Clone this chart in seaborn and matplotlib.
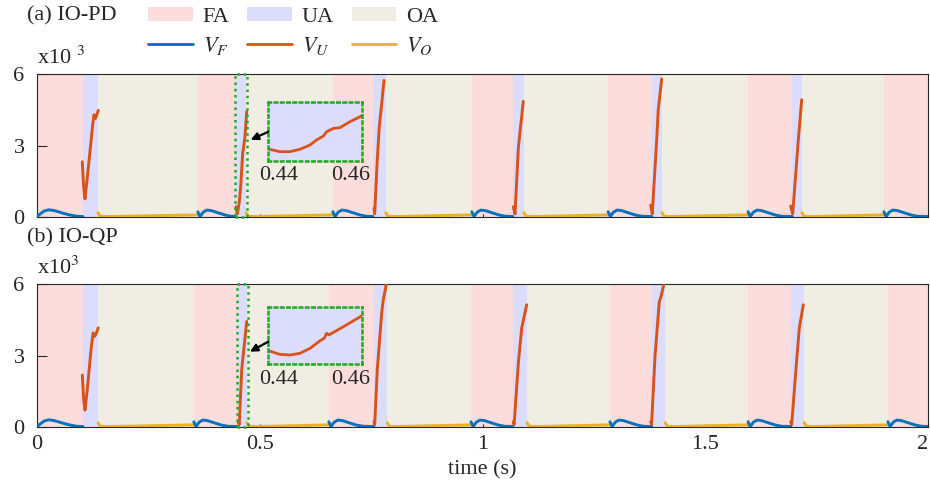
import numpy as np
import pandas as pd
import matplotlib
matplotlib.use("Agg")
import matplotlib.pyplot as plt
from matplotlib.patches import Patch, Rectangle
from matplotlib.lines import Line2D
import seaborn as sns

sns.set_theme(style="white")
plt.rcParams['font.family'] = ['Liberation Serif', 'DejaVu Serif']
plt.rcParams['mathtext.fontset'] = 'stix'

# ---------------- data (values in x10^3) ----------------
# phase intervals (s)
fa_a = [(0.000, 0.103), (0.361, 0.447), (0.664, 0.754), (0.976, 1.068), (1.282, 1.380), (1.596, 1.695), (1.901, 2.000)]
ua_a = [(0.103, 0.137), (0.447, 0.469), (0.754, 0.783), (1.068, 1.093), (1.380, 1.403), (1.695, 1.717)]
oa_a = [(0.137, 0.361), (0.469, 0.664), (0.783, 0.976), (1.093, 1.282), (1.403, 1.596), (1.717, 1.901)]

fa_b = [(0.000, 0.103), (0.352, 0.451), (0.655, 0.756), (0.974, 1.068), (1.286, 1.380), (1.596, 1.692), (1.910, 2.000)]
ua_b = [(0.103, 0.137), (0.451, 0.471), (0.756, 0.786), (1.068, 1.100), (1.380, 1.410), (1.692, 1.722)]
oa_b = [(0.137, 0.352), (0.471, 0.655), (0.786, 0.974), (1.100, 1.286), (1.410, 1.596), (1.722, 1.910)]

# V_F segments (time, value)
vf_a_t = [[0.000, 0.008, 0.016, 0.026, 0.036, 0.048, 0.060, 0.075, 0.090, 0.103],
          [0.361, 0.366, 0.373, 0.381, 0.391, 0.401, 0.411, 0.423, 0.436, 0.447],
          [0.664, 0.669, 0.676, 0.684, 0.694, 0.704, 0.714, 0.726, 0.740, 0.754],
          [0.976, 0.981, 0.988, 0.996, 1.006, 1.016, 1.026, 1.038, 1.052, 1.068],
          [1.282, 1.287, 1.294, 1.302, 1.312, 1.322, 1.332, 1.344, 1.358, 1.380],
          [1.596, 1.601, 1.608, 1.616, 1.626, 1.636, 1.646, 1.658, 1.672, 1.695],
          [1.901, 1.906, 1.913, 1.921, 1.931, 1.941, 1.951, 1.963, 1.977, 2.000]]
vf_a_v = [[0.02, 0.14, 0.25, 0.30, 0.28, 0.22, 0.15, 0.08, 0.03, 0.02],
          [0.22, 0.02, 0.20, 0.29, 0.27, 0.21, 0.15, 0.08, 0.03, 0.02],
          [0.22, 0.02, 0.20, 0.29, 0.27, 0.21, 0.15, 0.08, 0.03, 0.02],
          [0.22, 0.02, 0.20, 0.29, 0.27, 0.21, 0.15, 0.08, 0.03, 0.02],
          [0.22, 0.02, 0.20, 0.29, 0.27, 0.21, 0.15, 0.08, 0.03, 0.02],
          [0.22, 0.02, 0.20, 0.29, 0.27, 0.21, 0.15, 0.08, 0.03, 0.02],
          [0.22, 0.02, 0.20, 0.29, 0.27, 0.21, 0.15, 0.08, 0.03, 0.02]]
vf_b_t = [[0.000, 0.008, 0.016, 0.026, 0.036, 0.048, 0.060, 0.075, 0.090, 0.103],
          [0.352, 0.357, 0.364, 0.372, 0.382, 0.392, 0.402, 0.414, 0.430, 0.451],
          [0.655, 0.660, 0.667, 0.675, 0.685, 0.695, 0.705, 0.717, 0.733, 0.756],
          [0.974, 0.979, 0.986, 0.994, 1.004, 1.014, 1.024, 1.036, 1.050, 1.068],
          [1.286, 1.291, 1.298, 1.306, 1.316, 1.326, 1.336, 1.348, 1.362, 1.380],
          [1.596, 1.601, 1.608, 1.616, 1.626, 1.636, 1.646, 1.658, 1.672, 1.692],
          [1.910, 1.915, 1.922, 1.930, 1.940, 1.950, 1.960, 1.972, 1.986, 2.000]]
vf_b_v = vf_a_v

# V_U segments
vu_a_t = [[0.1017, 0.1045, 0.1077, 0.1120, 0.1170, 0.1205, 0.1250, 0.1280, 0.1300, 0.1318, 0.1345, 0.1376],
          [0.4467, 0.4496, 0.4540, 0.4572, 0.4617, 0.4669, 0.4707],
          [0.7565, 0.7580, 0.7638, 0.7683, 0.7740, 0.7789],
          [1.0691, 1.0730, 1.0804, 1.0860, 1.0916],
          [1.3775, 1.3811, 1.3910, 1.3945, 1.4022],
          [1.6918, 1.6963, 1.7089, 1.7165]]
vu_a_v = [[2.32, 1.30, 0.76, 1.50, 2.40, 3.03, 3.87, 4.29, 4.12, 4.17, 4.30, 4.47],
          [0.43, 0.13, 0.60, 1.27, 2.68, 3.37, 4.43],
          [0.36, 0.13, 2.40, 3.80, 4.80, 5.73],
          [0.43, 0.13, 2.88, 3.90, 4.85],
          [0.50, 0.13, 3.24, 4.50, 5.79],
          [0.46, 0.13, 3.24, 4.92]]
vu_b_t = [[0.1017, 0.1045, 0.1077, 0.1130, 0.1185, 0.1220, 0.1260, 0.1290, 0.1318, 0.1376],
          [0.4519, 0.4540, 0.4595, 0.4650, 0.4707],
          [0.7565, 0.7580, 0.7638, 0.7737, 0.7773, 0.7863],
          [1.0691, 1.0710, 1.0804, 1.0880, 1.0992],
          [1.3775, 1.3795, 1.3872, 1.3968, 1.4007, 1.4097],
          [1.6918, 1.6940, 1.7053, 1.7111, 1.7201]]
vu_b_v = [[2.18, 1.20, 0.71, 1.60, 2.70, 3.37, 3.95, 3.80, 3.87, 4.16],
          [0.22, 0.10, 2.40, 3.40, 4.43],
          [0.22, 0.10, 2.40, 4.78, 5.34, 6.20],
          [0.22, 0.10, 2.67, 4.15, 5.13],
          [0.22, 0.10, 2.95, 5.26, 5.47, 6.20],
          [0.22, 0.10, 2.82, 4.15, 5.13]]

# V_O values at OA start, +0.005 s, +0.02 s, middle, end
vo_v = [0.18, 0.03, 0.02, 0.05, 0.09]

# inset (zoomed V_U around 0.44-0.46 s)
ins_t_a = [0.4374, 0.4403, 0.4431, 0.4459, 0.4487, 0.4505, 0.4524, 0.4533, 0.4552, 0.4570, 0.4598, 0.4630]
ins_v_a = [0.116, 0.092, 0.092, 0.116, 0.160, 0.211, 0.251, 0.295, 0.329, 0.336, 0.397, 0.455]
ins_t_b = [0.4374, 0.4403, 0.4431, 0.4459, 0.4487, 0.4515, 0.4526, 0.4533, 0.4540, 0.4547, 0.4580, 0.4630]
ins_v_b = [0.136, 0.101, 0.094, 0.112, 0.164, 0.244, 0.269, 0.321, 0.304, 0.321, 0.391, 0.503]

xticks = [0, 0.5, 1, 1.5, 2]
xticklabels = ['0', '0.5', '1', '1.5', '2']
yticks = [0, 3, 6]

# ---------------- styles ----------------
c_fa, c_ua, c_oa = '#fddcdc', '#dcdcfc', '#f0eee2'
c_vf, c_vu, c_vo = '#0072BD', '#D95319', '#EDB120'
green = '#1faa1f'
FS = 16
TXT = '#262626'


def build_df(vf_t, vf_v, vu_t, vu_v, oa):
    rows = []
    for k, (ts, vs) in enumerate(zip(vf_t, vf_v)):
        for t, v in zip(ts, vs):
            rows.append(('VF', k, t, v))
    for k, (ts, vs) in enumerate(zip(vu_t, vu_v)):
        for t, v in zip(ts, vs):
            rows.append(('VU', k, t, v))
    for k, (s, e) in enumerate(oa):
        ts = [s, s + 0.005, s + 0.02, (s + e) / 2, e]
        for t, v in zip(ts, vo_v):
            rows.append(('VO', k, t, v))
    return pd.DataFrame(rows, columns=['series', 'seg', 't', 'v'])


fig = plt.figure(figsize=(9.3, 4.86), dpi=100)
W, H = 930, 486
ax_a = fig.add_axes([37 / W, 1 - 217 / H, 891 / W, 143 / H])
ax_b = fig.add_axes([37 / W, 1 - 427 / H, 891 / W, 143 / H])

panels = [
    (ax_a, fa_a, ua_a, oa_a, build_df(vf_a_t, vf_a_v, vu_a_t, vu_a_v, oa_a), ins_t_a, ins_v_a,
     [0.2596, 0.3937, 0.1055, 0.4126], 0.49, (0.4797, 3.24)),
    (ax_b, fa_b, ua_b, oa_b, build_df(vf_b_t, vf_b_v, vu_b_t, vu_b_v, oa_b), ins_t_b, ins_v_b,
     [0.2596, 0.4406, 0.1055, 0.4007], 0.39, (0.478, 3.16)),
]

for ax, fa, ua, oa, df, it, iv, ibounds, arrow_y, arrow_xy in panels:
    for s, e in fa:
        ax.axvspan(s, e, color=c_fa, lw=0, zorder=0)
    for s, e in ua:
        ax.axvspan(s, e, color=c_ua, lw=0, zorder=0)
    for s, e in oa:
        ax.axvspan(s, e, color=c_oa, lw=0, zorder=0)
    for name, col in [('VO', c_vo), ('VF', c_vf), ('VU', c_vu)]:
        sns.lineplot(data=df[df.series == name], x='t', y='v', units='seg', estimator=None,
                     sort=False, color=col, lw=2.1, ax=ax, legend=False, zorder=3)
    ax.set_xlim(0, 2)
    ax.set_ylim(0, 6)
    ax.set_xticks(xticks)
    ax.set_yticks(yticks)
    ax.set_yticklabels([str(v) for v in yticks], fontsize=FS, color=TXT)
    ax.set_ylabel('')
    ax.set_xlabel('')
    ax.tick_params(axis='y', direction='in', length=7, pad=9, left=True, width=0.8, color=TXT)
    ax.tick_params(axis='x', direction='in', length=2.5, pad=6, bottom=True, width=0.8, color=TXT)
    for sp in ax.spines.values():
        sp.set_color(TXT)
        sp.set_linewidth(0.8)
    # dotted box around the second UA phase
    s2, e2 = ua[1]
    ax.add_patch(Rectangle((s2 - 0.003, 0), (e2 - s2) + 0.006, 6, fill=False, ec=green,
                           lw=1.8, ls=(0, (1, 1.5)), zorder=5, clip_on=False))
    # inset
    ins = ax.inset_axes(ibounds)
    ins.set_facecolor(c_ua)
    sns.lineplot(x=it, y=iv, ax=ins, color=c_vu, lw=2.0, legend=False)
    ins.set_xlim(0.4371, 0.4632)
    ins.set_ylim(0, 0.6)
    ins.set_xticks([0.44, 0.46])
    ins.set_xticklabels(['0.44', '0.46'], fontsize=FS, color=TXT)
    ins.set_yticks([])
    ins.tick_params(axis='x', length=0, pad=4, bottom=True)
    for sp in ins.spines.values():
        sp.set_color(green)
        sp.set_linewidth(1.8)
        sp.set_linestyle((0, (1, 1.5)))
    ax.annotate('', xy=arrow_xy, xycoords='data', xytext=(0.0, arrow_y), textcoords=ins.transAxes,
                arrowprops=dict(arrowstyle='-|>', color='black', lw=1.6, mutation_scale=11,
                                shrinkA=0, shrinkB=0), zorder=6)

ax_a.set_xticklabels([])
ax_b.set_xticklabels(xticklabels, fontsize=FS, color=TXT)
ax_b.get_xticklabels()[-1].set_horizontalalignment('right')
ax_b.set_xlabel('time (s)', fontsize=FS, labelpad=4, color=TXT)

# panel labels and scale factor
fig.text(27 / W, 1 - 16 / H, '(a) IO-PD', fontsize=FS, va='center', ha='left', color=TXT)
fig.text(27 / W, 1 - 238 / H, '(b) IO-QP', fontsize=FS, va='center', ha='left', color=TXT)
fig.text(37 / W, 1 - 58 / H, 'x10 $^{3}$', fontsize=FS, va='center', ha='left', color=TXT)
fig.text(37 / W, 1 - 268 / H, 'x10$^{3}$', fontsize=FS, va='center', ha='left', color=TXT)

handles = [Patch(fc=c_fa, ec='none'), Line2D([], [], color=c_vf, lw=2),
           Patch(fc=c_ua, ec='none'), Line2D([], [], color=c_vu, lw=2),
           Patch(fc=c_oa, ec='none'), Line2D([], [], color=c_vo, lw=2)]
labels = ['FA', '$V_F$', 'UA', '$V_U$', 'OA', '$V_O$']
fig.legend(handles, labels, ncol=3, frameon=False, loc='upper left',
           bbox_to_anchor=(137 / W, 1 + 4 / H), borderpad=0, fontsize=FS,
           handlelength=2.0, handleheight=0.6, handletextpad=0.45, columnspacing=0.8,
           labelspacing=0.35)

fig.savefig('out.png', dpi=100)
